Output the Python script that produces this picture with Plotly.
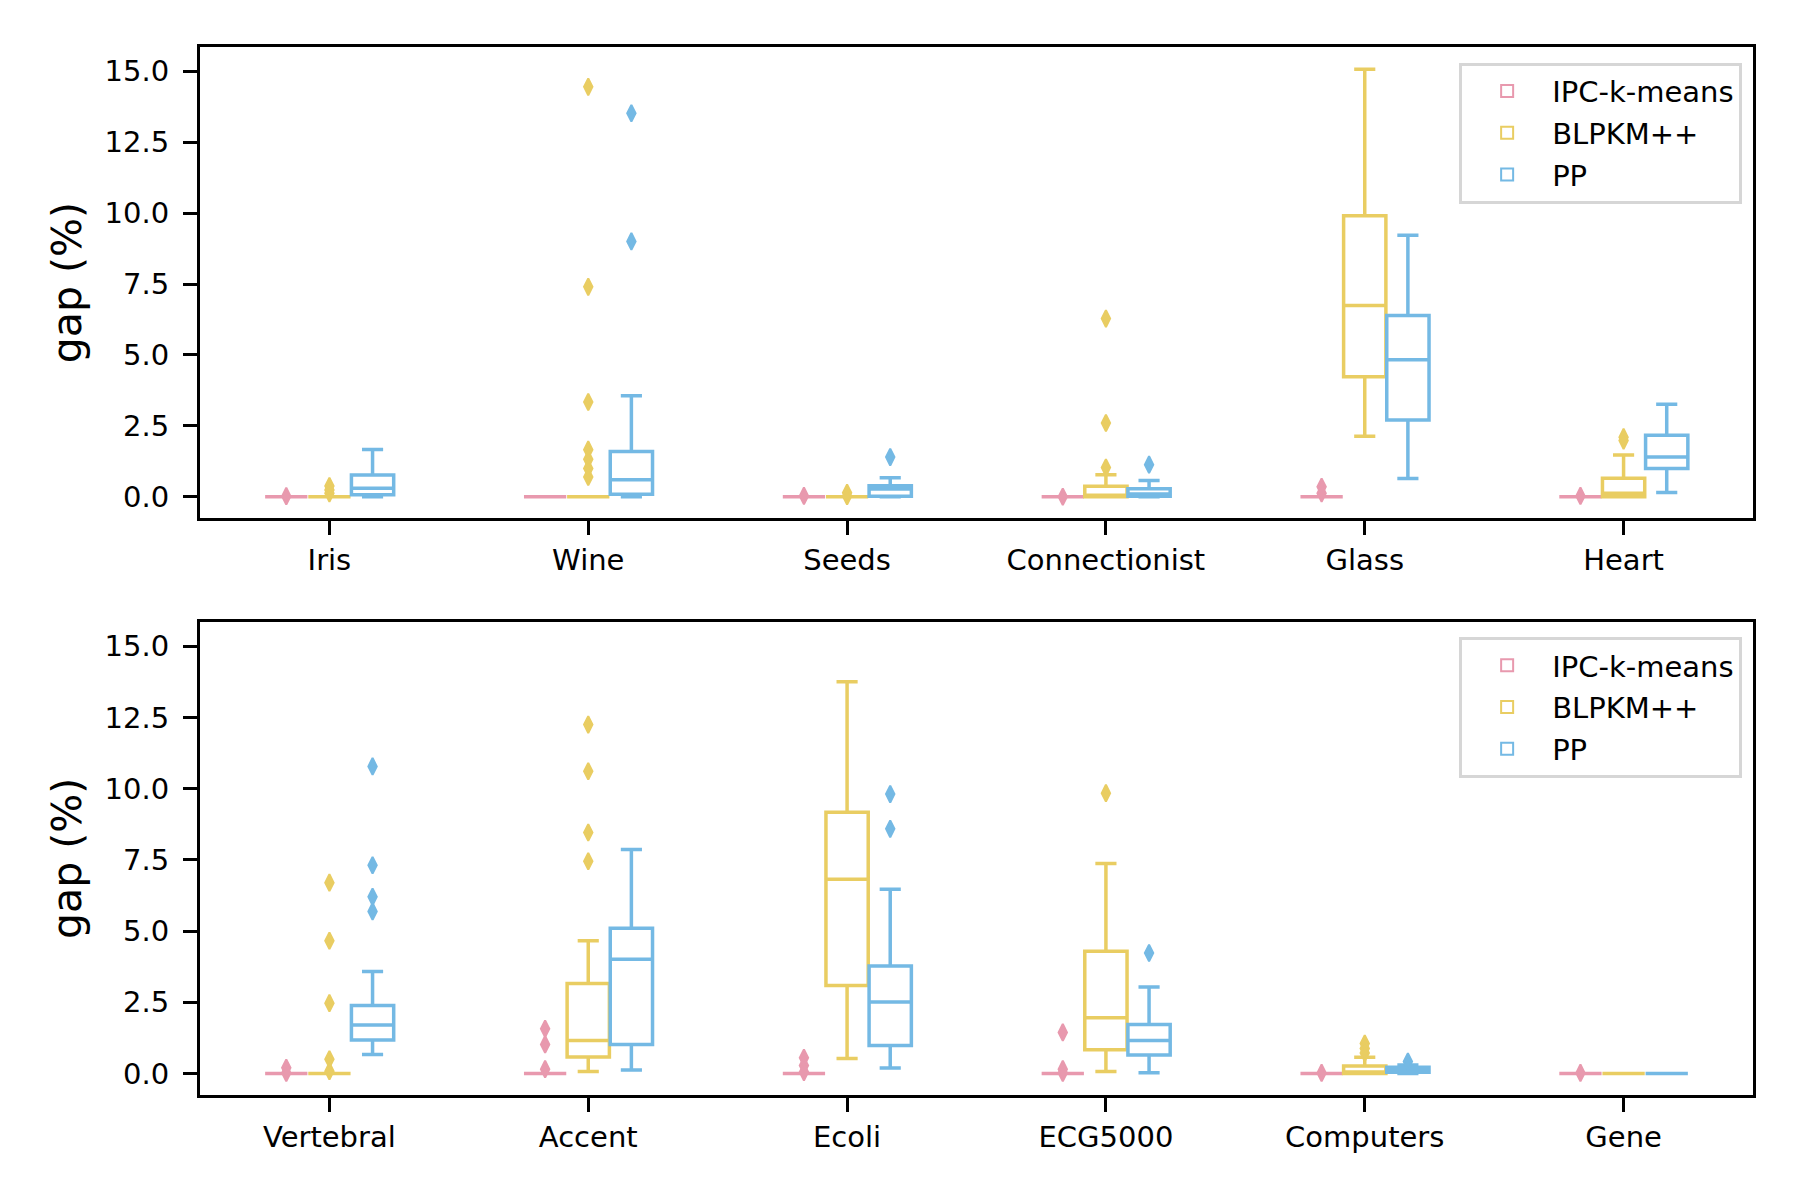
import plotly.graph_objects as go
from plotly.subplots import make_subplots

# ---------------- data ----------------
methods = ["IPC-k-means", "BLPKM++", "PP"]
colors = ["#E899AE", "#E9CD62", "#74B9E4"]

top_categories = ["Iris", "Wine", "Seeds", "Connectionist", "Glass", "Heart"]
bottom_categories = ["Vertebral", "Accent", "Ecoli", "ECG5000", "Computers", "Gene"]

# stats per category: [lower whisker, q1, median, q3, upper whisker]
top_ipc = [[0, 0, 0, 0, 0]] * 6
top_blpkm = [
    [0, 0, 0, 0, 0],
    [0, 0, 0, 0, 0],
    [0, 0, 0, 0, 0],
    [0, 0, 0.05, 0.37, 0.78],
    [2.13, 4.23, 6.74, 9.91, 15.07],
    [0, 0, 0.12, 0.65, 1.47],
]
top_pp = [
    [0, 0.07, 0.30, 0.77, 1.67],
    [0, 0.09, 0.60, 1.60, 3.56],
    [0, 0.02, 0.27, 0.39, 0.67],
    [0, 0.02, 0.10, 0.28, 0.57],
    [0.64, 2.71, 4.83, 6.39, 9.22],
    [0.15, 1.00, 1.40, 2.17, 3.26],
]
top_ipc_out = [[0.02], [], [0.03], [0.0], [0.35, 0.12], [0.03]]
top_blpkm_out = [[0.38, 0.24, 0.12], [14.45, 7.40, 3.34, 1.66, 1.32, 1.0, 0.70],
                 [0.14, 0.02], [6.28, 2.60, 1.03], [], [2.10, 1.98]]
top_pp_out = [[], [13.52, 9.00], [1.40], [1.13], [], []]

bottom_ipc = [[0, 0, 0, 0, 0]] * 6
bottom_blpkm = [
    [0, 0, 0, 0, 0],
    [0.07, 0.58, 1.16, 3.16, 4.66],
    [0.53, 3.09, 6.82, 9.17, 13.75],
    [0.07, 0.83, 1.96, 4.29, 7.37],
    [0, 0, 0.05, 0.26, 0.57],
    [0, 0, 0, 0, 0],
]
bottom_pp = [
    [0.67, 1.18, 1.70, 2.39, 3.58],
    [0.12, 1.02, 4.01, 5.10, 7.86],
    [0.19, 0.98, 2.51, 3.77, 6.47],
    [0.03, 0.65, 1.16, 1.72, 3.04],
    [0.0, 0.04, 0.12, 0.22, 0.30],
    [0, 0, 0, 0, 0],
]
bottom_ipc_out = [[0.20, 0.02], [1.57, 1.02, 0.15], [0.55, 0.28, 0.05],
                  [1.44, 0.15, 0.02], [0.02], [0.02]]
bottom_blpkm_out = [[6.70, 4.66, 2.47, 0.50, 0.08], [12.25, 10.61, 8.46, 7.45], [],
                    [9.84], [1.05, 0.88, 0.72], []]
bottom_pp_out = [[10.78, 7.31, 6.20, 5.69], [], [9.81, 8.59], [4.23], [0.42], []]

y_ticks = [0.0, 2.5, 5.0, 7.5, 10.0, 12.5, 15.0]

# ---------------- figure ----------------
FONT = "DejaVu Sans"
offsets = [-0.5 / 3, 0.0, 0.5 / 3]
box_w = 0.5 / 3 * 0.98

fig = make_subplots(rows=2, cols=1, vertical_spacing=0.099)

panels = [
    (1, top_categories, [top_ipc, top_blpkm, top_pp], [top_ipc_out, top_blpkm_out, top_pp_out], "legend"),
    (2, bottom_categories, [bottom_ipc, bottom_blpkm, bottom_pp],
     [bottom_ipc_out, bottom_blpkm_out, bottom_pp_out], "legend2"),
]

for row, cats, stats_list, outs_list, leg in panels:
    for m, (name, col) in enumerate(zip(methods, colors)):
        stats = stats_list[m]
        xs = [i + offsets[m] for i in range(len(cats))]
        fig.add_trace(go.Box(
            name=name, x=xs,
            lowerfence=[s[0] for s in stats], q1=[s[1] for s in stats],
            median=[s[2] for s in stats], q3=[s[3] for s in stats],
            upperfence=[s[4] for s in stats],
            width=box_w, whiskerwidth=0.5, boxpoints=False,
            line=dict(color=col, width=3.5), fillcolor="rgba(0,0,0,0)",
            legend=leg, legendgroup=name + leg, showlegend=True, hoverinfo="skip",
        ), row=row, col=1)
        ox, oy = [], []
        for i, vals in enumerate(outs_list[m]):
            for v in vals:
                ox.append(i + offsets[m])
                oy.append(v)
        fig.add_trace(go.Scatter(
            x=ox, y=oy, mode="markers", showlegend=False, legendgroup=name + leg,
            marker=dict(symbol="diamond-tall", size=12, color=col,
                        line=dict(color=col, width=2)),
            hoverinfo="skip",
        ), row=row, col=1)

for row, cats in [(1, top_categories), (2, bottom_categories)]:
    fig.update_xaxes(
        row=row, col=1, range=[-0.5, 5.5], tickmode="array",
        tickvals=list(range(len(cats))), ticktext=cats,
        showline=True, mirror=True, linecolor="black", linewidth=3,
        ticks="outside", ticklen=14, tickwidth=3, tickcolor="black",
        showgrid=False, zeroline=False,
        tickfont=dict(family=FONT, size=29, color="black"),
    )
    fig.update_yaxes(
        row=row, col=1, range=[-0.755, 15.855], tickmode="array",
        tickvals=y_ticks, ticktext=[f"{v:.1f}" for v in y_ticks],
        showline=True, mirror=True, linecolor="black", linewidth=3,
        ticks="outside", ticklen=14, tickwidth=3, tickcolor="black",
        ticklabelstandoff=8,
        showgrid=False, zeroline=False,
        tickfont=dict(family=FONT, size=29, color="black"),
        title=dict(text="gap (%)", font=dict(family=FONT, size=41, color="black"), standoff=11),
    )

legend_style = dict(
    xanchor="right", yanchor="top", x=0.993,
    bgcolor="rgba(255,255,255,0.8)", bordercolor="#d6d6d6", borderwidth=3,
    font=dict(family=FONT, size=29, color="black"),
    tracegroupgap=1, itemsizing="constant", itemwidth=80,
)

# page body has an 8px default margin, so the figure is made 8px smaller
fig.update_layout(
    width=1792, height=1192,
    margin=dict(l=192, r=47, t=39, b=105),
    paper_bgcolor="white", plot_bgcolor="white",
    boxmode="overlay",
    legend=dict(y=0.985, **legend_style),
    legend2=dict(y=0.437, **legend_style),
    font=dict(family=FONT, color="black"),
)
fig.update_layout(yaxis=dict(domain=[0.5504, 1.0]), yaxis2=dict(domain=[0.0, 0.4515]))

fig.write_html("out.html")
